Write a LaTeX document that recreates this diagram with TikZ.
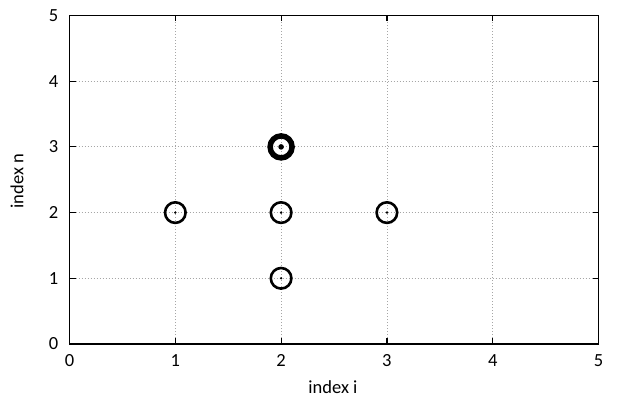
\documentclass[tikz,border=0pt]{standalone}
\usepackage{fontspec}
\setmainfont{Carlito}
\begin{document}
\begin{tikzpicture}[x=1pt,y=-1pt,
  lbl/.style={inner sep=0pt,font=\fontsize{18.5}{21}\selectfont},
  gridline/.style={gray!70,line width=0.8pt,dash pattern=on 1pt off 2pt},
  ring/.style={draw=black,line width=2.6pt},
  bigring/.style={draw=black,line width=5.5pt}]
\useasboundingbox (0,0) rectangle (624,406);
\def\xo{69.5}\def\xu{105.8}\def\yo{344}\def\yu{65.7}
% grid
\foreach \i in {1,...,4}{
  \draw[gridline] ({\xo+\xu*\i},\yo) -- ({\xo+\xu*\i},{\yo-5*\yu});
  \draw[gridline] (\xo,{\yo-\yu*\i}) -- ({\xo+5*\xu},{\yo-\yu*\i});
}
% ticks
\foreach \i in {0,...,5}{
  \draw[line width=1.2pt] ({\xo+\xu*\i},\yo) -- ({\xo+\xu*\i},{\yo-6});
  \draw[line width=1.2pt] ({\xo+\xu*\i},{\yo-5*\yu}) -- ({\xo+\xu*\i},{\yo-5*\yu+6});
  \draw[line width=1.2pt] (\xo,{\yo-\yu*\i}) -- ({\xo+6},{\yo-\yu*\i});
  \draw[line width=1.2pt] ({\xo+5*\xu},{\yo-\yu*\i}) -- ({\xo+5*\xu-6},{\yo-\yu*\i});
  \node[lbl,anchor=north] (xl\i) at ({\xo+\xu*\i},{\yo+10}) {\i};
  \node[lbl,anchor=east] (yl\i) at ({\xo-11},{\yo-\yu*\i}) {\i};
}
% border
\draw[line width=1.5pt] (\xo,\yo) rectangle ({\xo+5*\xu},{\yo-5*\yu});
% axis labels
\node[lbl] (xlab) at (333,387) {index i};
\node[lbl,rotate=90] (ylab) at (17,181) {index n};
% points
\foreach \i/\j in {1/2,2/2,3/2,2/1}{
  \draw[ring] ({\xo+\xu*\i},{\yo-\yu*\j}) circle[radius=10.3pt];
  \fill ({\xo+\xu*\i},{\yo-\yu*\j}) circle[radius=1.3pt];
}
\draw[bigring] ({\xo+\xu*2},{\yo-\yu*3}) circle[radius=11pt];
\fill ({\xo+\xu*2},{\yo-\yu*3}) circle[radius=2.8pt];
\end{tikzpicture}
\end{document}
